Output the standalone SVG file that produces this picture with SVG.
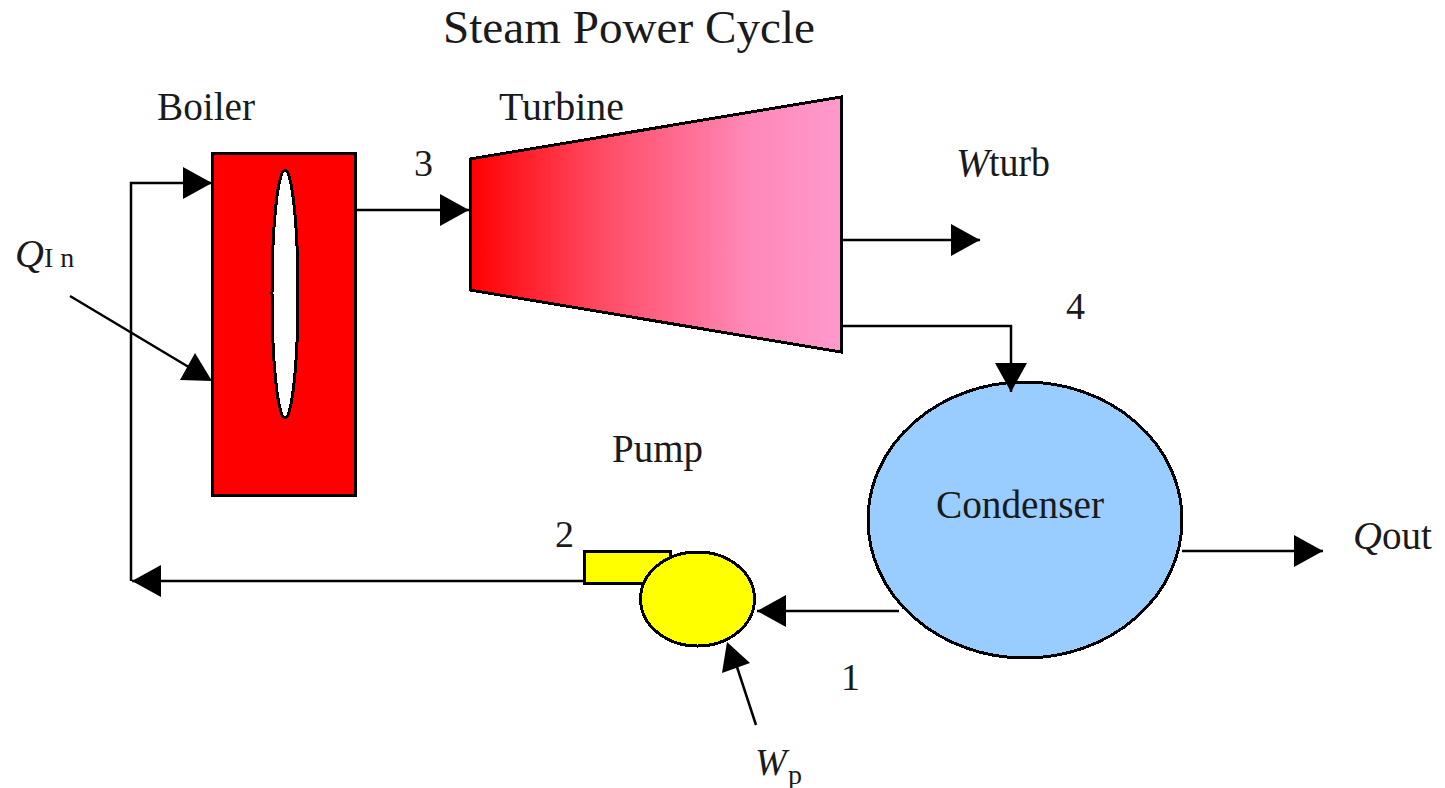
<svg xmlns="http://www.w3.org/2000/svg" width="1445" height="788" viewBox="0 0 1445 788">
<style>
text{font-family:"Liberation Serif","Times New Roman",serif;font-size:40px;fill:#1a1a1a}
.i{font-style:italic}
.n{font-size:38px}
.s{stroke:#000;stroke-width:3;shape-rendering:crispEdges}
.l{fill:none;stroke:#000;stroke-width:2.5}
</style>
<defs>
<marker id="a" markerUnits="userSpaceOnUse" markerWidth="30" markerHeight="32" refX="29" refY="16" orient="auto"><path d="M0 0L29 16L0 32Z" fill="#000"/></marker>
<linearGradient id="g" x1="0" x2="1" y1="0" y2="0"><stop offset="0" stop-color="#f00"/><stop offset=".35" stop-color="#ff4a63"/><stop offset=".75" stop-color="#ff88b8"/><stop offset="1" stop-color="#f9c"/></linearGradient>
</defs>
<rect width="1445" height="788" fill="#fff"/>
<text x="443" y="43" textLength="372" lengthAdjust="spacingAndGlyphs" style="font-size:46px">Steam Power Cycle</text>
<g id="boiler"><rect x="212" y="153" width="143" height="342" fill="#f00" class="s"/><ellipse cx="285" cy="294" rx="13" ry="124" fill="#fff" class="s"/><text x="157" y="120" textLength="98" lengthAdjust="spacingAndGlyphs">Boiler</text></g>
<g id="turbine"><path d="M470 159L841 97V352L470 290Z" fill="url(#g)" class="s"/><text x="499" y="120" textLength="125" lengthAdjust="spacingAndGlyphs">Turbine</text></g>
<g id="condenser"><ellipse cx="1025" cy="520" rx="157" ry="138" fill="#9cf" class="s"/><text x="936" y="518" textLength="168" lengthAdjust="spacingAndGlyphs">Condenser</text></g>
<g id="pump"><rect x="584" y="551" width="86" height="32" fill="#ff0" class="s"/><ellipse cx="697.500" cy="599" rx="57" ry="47" fill="#ff0" class="s"/><text x="612" y="462" textLength="91" lengthAdjust="spacingAndGlyphs">Pump</text></g>
<g id="connectors">
<path class="l" d="M356 210H469" marker-end="url(#a)"/>
<path class="l" d="M584 581H132" marker-end="url(#a)"/>
<path class="l" d="M131 581V183H212" marker-end="url(#a)"/>
<path class="l" d="M70 296L192 369"/>
<path d="M195 353L180 380L212 381Z" fill="#000"/>
<path class="l" d="M841 240H980" marker-end="url(#a)"/>
<path class="l" d="M841 326H1011V392" marker-end="url(#a)"/>
<path class="l" d="M1182 551H1323" marker-end="url(#a)"/>
<path class="l" d="M899 611H757" marker-end="url(#a)"/>
<path class="l" d="M756 725L737 667"/>
<path d="M727 642L722 673L750 663Z" fill="#000"/>
</g>
<g id="labels">
<text x="414" y="176" class="n">3</text>
<text x="1066" y="319" class="n">4</text>
<text x="555" y="547" class="n">2</text>
<text x="841" y="690" class="n">1</text>
<text x="15" y="267" class="i">Q</text><text x="44" y="267" style="font-size:28px">I n</text>
<text x="956" y="176" class="i">W</text><text x="989" y="176" textLength="61" lengthAdjust="spacingAndGlyphs">turb</text>
<text x="1353" y="549" class="i">Q</text><text x="1382" y="549" textLength="50" lengthAdjust="spacingAndGlyphs">out</text>
<text x="755" y="775" class="i" style="font-size:38px">W</text><text x="788" y="784" style="font-size:28px">p</text>
</g>
</svg>
